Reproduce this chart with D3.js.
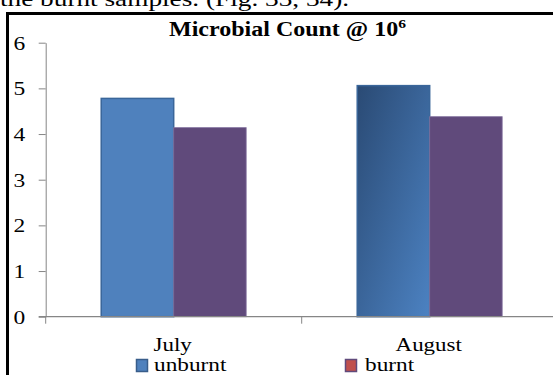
<!DOCTYPE html>
<html>
<head>
<meta charset="utf-8">
<script src="https://cdn.jsdelivr.net/npm/d3@7"></script>
<style>
  html, body { margin: 0; padding: 0; background: #fff; }
  svg { display: block; }
  text { font-family: "Liberation Serif", "Times New Roman", serif; fill: #000; }
</style>
</head>
<body>
<script>
// Microbial count (x10^6) for unburnt and burnt samples by month
const months = ["July", "August"];
const seriesNames = ["unburnt", "burnt"];
const unburnt = [4.78, 5.06];
const burnt = [4.14, 4.38];
const yTicks = [0, 1, 2, 3, 4, 5, 6];
const captionText = "the burnt samples. (Fig. 33, 34).";
const titleText = "Microbial Count @ 10";
const titleSup = "6";

const W = 553, H = 375;
const SX = 1.25; // horizontal stretch of the lettering

const svg = d3.select("body").append("svg")
  .attr("width", W).attr("height", H);

// stretched text helper: places text at (x, y) and widens it horizontally
function stext(parent, x, y, str, opts = {}) {
  const g = parent.append("g")
    .attr("transform", `translate(${x},${y}) scale(${opts.sx || SX},1)`);
  const t = g.append("text")
    .attr("text-anchor", opts.anchor || "start")
    .attr("font-size", opts.size || 18.5)
    .attr("font-weight", opts.weight || "normal")
    .text(str);
  return t;
}

// running text above the figure (partly cut off)
stext(svg, 0, 6, captionText, { size: 22, sx: 1.24 });

// figure frame
svg.append("rect")
  .attr("x", 7.5).attr("y", 13.5)
  .attr("width", W + 10).attr("height", H + 10)
  .attr("fill", "none").attr("stroke", "#000").attr("stroke-width", 3);

// title
const title = stext(svg, 287.5, 36, "", { size: 20, weight: "bold", anchor: "middle", sx: 1.2 });
title.append("tspan").text(titleText);
title.append("tspan").attr("font-size", 13).attr("dy", -8).text(titleSup);

// scales
const y = d3.scaleLinear().domain([0, 6]).range([316.7, 42.7]);
const x = d3.scaleBand().domain(months).range([45.7, 557.7]).paddingInner(0).paddingOuter(0);
const xs = d3.scaleBand().domain(seriesNames).range([0, x.bandwidth()])
  .paddingInner(0).paddingOuter(0.766);
const color = d3.scaleOrdinal().domain(seriesNames).range(["#4f81bd", "#604a7b"]);

// gradient for the shaded August bar
const defs = svg.append("defs");
const grad = defs.append("linearGradient").attr("id", "blueShade")
  .attr("x1", 0).attr("y1", 0).attr("x2", 1).attr("y2", 1);
grad.append("stop").attr("offset", "0%").attr("stop-color", "#2a4a74");
grad.append("stop").attr("offset", "100%").attr("stop-color", "#4c82c2");

// y axis
const yAxis = svg.append("g")
  .attr("transform", `translate(${x.range()[0]},0)`)
  .call(d3.axisLeft(y).tickValues(yTicks).tickSize(7).tickSizeOuter(0).tickFormat(d3.format("d")));
yAxis.select(".domain").attr("stroke", "#868686");
yAxis.selectAll(".tick line").attr("stroke", "#868686");
yAxis.selectAll(".tick text")
  .attr("x", 0).attr("dy", "0.34em")
  .attr("font-family", "Liberation Serif, Times New Roman, serif")
  .attr("font-size", 18.5)
  .attr("fill", "#000")
  .attr("transform", `translate(-20.5,0) scale(1.27,1)`);

// bars
const rows = months.map((m, i) => ({ month: m, values: [unburnt[i], burnt[i]] }));
const groups = svg.append("g").selectAll("g")
  .data(rows).join("g")
  .attr("transform", d => `translate(${x(d.month)},0)`);

groups.selectAll("rect")
  .data((d, i) => seriesNames.map((s, j) => ({ series: s, value: d.values[j], mi: i })))
  .join("rect")
  .attr("x", d => xs(d.series))
  .attr("y", d => y(d.value))
  .attr("width", xs.bandwidth())
  .attr("height", d => y(0) - y(d.value))
  .attr("fill", d => (d.series === "unburnt" && d.mi === 1) ? "url(#blueShade)" : color(d.series))
  .attr("stroke", d => d.series === "unburnt" ? "#3a669a" : "#8574a0")
  .attr("stroke-width", d => d.series === "unburnt" ? 1.5 : 0.8);

// x axis baseline with category separators
const x0 = y(0);
svg.append("line")
  .attr("x1", x.range()[0] - 7).attr("x2", x.range()[1])
  .attr("y1", x0).attr("y2", x0)
  .attr("stroke", "#868686").attr("stroke-width", 1.2);
const bounds = months.map(m => x(m)).concat([x.range()[1]]);
svg.append("g").selectAll("line")
  .data(bounds).join("line")
  .attr("x1", d => d).attr("x2", d => d)
  .attr("y1", x0).attr("y2", x0 + 7)
  .attr("stroke", "#868686");

// category labels
months.forEach(m => {
  stext(svg, x(m) + x.bandwidth() / 2 - 1, 351, m, { anchor: "middle", sx: 1.24 });
});

// legend
const legendItems = [
  { name: "unburnt", mx: 136.5, tx: 154, fill: "#4f81bd", stroke: "#385d8a" },
  { name: "burnt", mx: 345.5, tx: 365, fill: "#c0504d", stroke: "#604a7b" }
];
legendItems.forEach(it => {
  svg.append("rect")
    .attr("x", it.mx).attr("y", 359.5)
    .attr("width", 11).attr("height", 12)
    .attr("fill", it.fill).attr("stroke", it.stroke).attr("stroke-width", 1.5);
  stext(svg, it.tx, 371, it.name, { sx: 1.26 });
});
</script>
</body>
</html>
